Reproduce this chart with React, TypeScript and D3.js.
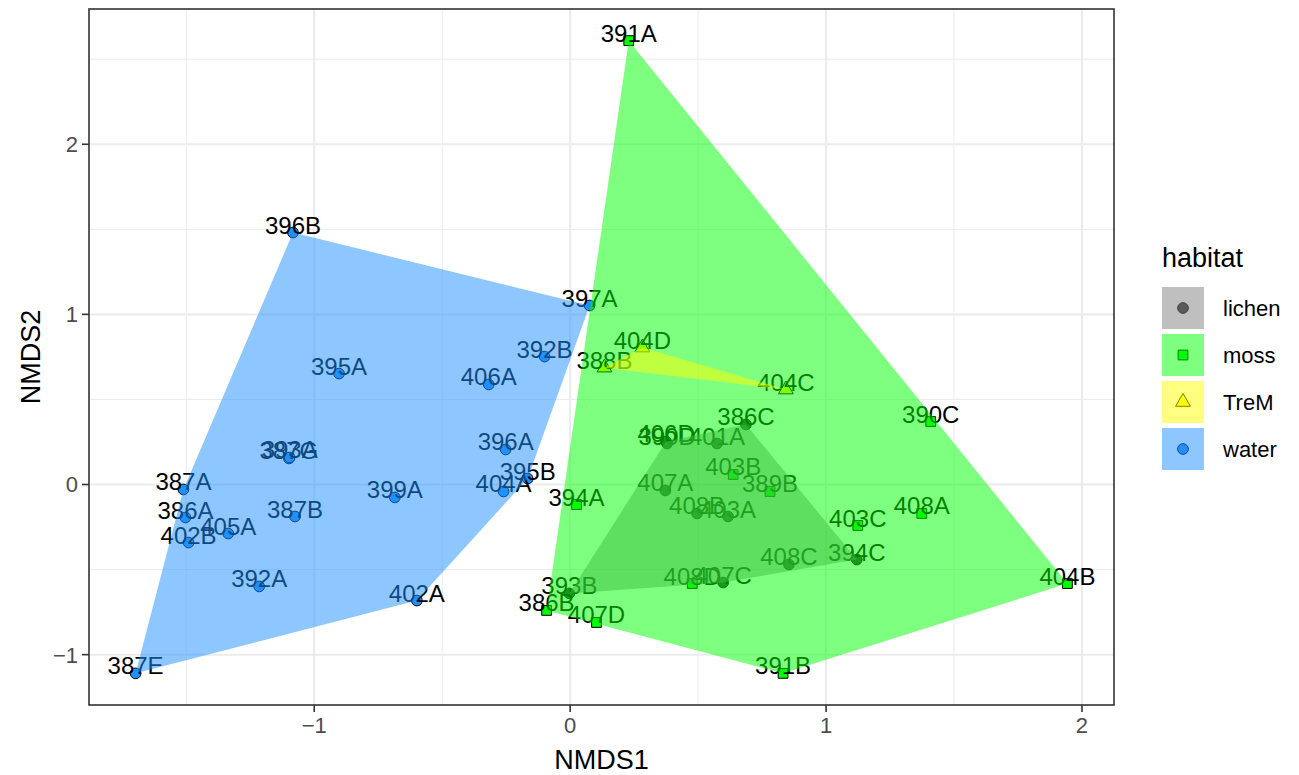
import React, { useRef, useEffect } from 'react';
import * as d3 from 'd3';

// NMDS site scores, one array per habitat
const habitats = ['lichen', 'moss', 'TreM', 'water'];

const lichenSites = [
  { label: '386C', x: 0.687, y: 0.353 },
  { label: '390D', x: 0.379, y: 0.241 },
  { label: '406D', x: 0.375, y: 0.253 },
  { label: '401A', x: 0.574, y: 0.241 },
  { label: '407A', x: 0.372, y: -0.035 },
  { label: '408B', x: 0.496, y: -0.170 },
  { label: '403A', x: 0.617, y: -0.188 },
  { label: '408C', x: 0.855, y: -0.470 },
  { label: '394C', x: 1.120, y: -0.441 },
  { label: '407C', x: 0.598, y: -0.576 },
  { label: '393B', x: -0.003, y: -0.640 },
];

const mossSites = [
  { label: '391A', x: 0.229, y: 2.609 },
  { label: '390C', x: 1.409, y: 0.370 },
  { label: '404B', x: 1.943, y: -0.582 },
  { label: '391B', x: 0.832, y: -1.110 },
  { label: '407D', x: 0.103, y: -0.811 },
  { label: '386B', x: -0.092, y: -0.740 },
  { label: '394A', x: 0.025, y: -0.118 },
  { label: '403B', x: 0.637, y: 0.059 },
  { label: '389B', x: 0.781, y: -0.041 },
  { label: '403C', x: 1.124, y: -0.241 },
  { label: '408A', x: 1.374, y: -0.170 },
  { label: '408D', x: 0.477, y: -0.582 },
];

const tremSites = [
  { label: '388B', x: 0.134, y: 0.687 },
  { label: '404D', x: 0.282, y: 0.805 },
  { label: '404C', x: 0.843, y: 0.558 },
];

const waterSites = [
  { label: '396B', x: -1.083, y: 1.481 },
  { label: '397A', x: 0.076, y: 1.052 },
  { label: '392B', x: -0.100, y: 0.752 },
  { label: '406A', x: -0.318, y: 0.588 },
  { label: '395A', x: -0.903, y: 0.652 },
  { label: '396A', x: -0.252, y: 0.206 },
  { label: '395B', x: -0.166, y: 0.035 },
  { label: '404A', x: -0.260, y: -0.041 },
  { label: '399A', x: -0.685, y: -0.076 },
  { label: '387G', x: -1.099, y: 0.153 },
  { label: '393A', x: -1.096, y: 0.159 },
  { label: '387A', x: -1.511, y: -0.029 },
  { label: '386A', x: -1.503, y: -0.194 },
  { label: '402B', x: -1.491, y: -0.341 },
  { label: '405A', x: -1.336, y: -0.288 },
  { label: '387B', x: -1.075, y: -0.188 },
  { label: '392A', x: -1.215, y: -0.599 },
  { label: '402A', x: -0.599, y: -0.682 },
  { label: '387E', x: -1.698, y: -1.110 },
];

const xTicks = [-1, 0, 1, 2];
const yTicks = [-1, 0, 1, 2];
const xMinor = [-1.5, -0.5, 0.5, 1.5];
const yMinor = [-0.5, 0.5, 1.5, 2.5];

const hullColors = { lichen: '#7f7f7f', moss: '#00ff00', TreM: '#ffff00', water: '#1e90ff' };
const pointFills = { lichen: '#333333', moss: '#00ff00', TreM: '#ffff00', water: '#1e90ff' };
const symbols = { lichen: d3.symbolCircle, moss: d3.symbolSquare, TreM: d3.symbolTriangle, water: d3.symbolCircle };
const symbolSizes = { lichen: 90, moss: 95, TreM: 95, water: 90 };

const FONT = 'Liberation Sans, Arial, Helvetica, sans-serif';

export default function App() {
  const svgRef = useRef(null);
  const width = 1299;
  const height = 775;
  const margin = { top: 9, right: 185, bottom: 70, left: 89 };

  useEffect(() => {
    const svg = d3.select(svgRef.current);
    svg.selectAll('*').remove();

    const groups = {
      lichen: lichenSites,
      moss: mossSites,
      TreM: tremSites,
      water: waterSites,
    };
    const all = habitats.flatMap(h => groups[h].map(d => ({ ...d, habitat: h })));

    // ggplot-style 5% expansion of the data range
    const [x0, x1] = d3.extent(all, d => d.x);
    const [y0, y1] = d3.extent(all, d => d.y);
    const px = (x1 - x0) * 0.05;
    const py = (y1 - y0) * 0.05;

    const left = margin.left;
    const right = width - margin.right;
    const top = margin.top;
    const bottom = height - margin.bottom;

    const x = d3.scaleLinear().domain([x0 - px, x1 + px]).range([left, right]);
    const y = d3.scaleLinear().domain([y0 - py, y1 + py]).range([bottom, top]);

    svg.append('rect')
      .attr('x', 0).attr('y', 0)
      .attr('width', width).attr('height', height)
      .attr('fill', 'white');

    const clipId = 'panel-clip';
    svg.append('clipPath').attr('id', clipId)
      .append('rect')
      .attr('x', left).attr('y', top)
      .attr('width', right - left).attr('height', bottom - top);

    // grid
    const grid = svg.append('g');
    grid.selectAll('.xminor').data(xMinor).join('line')
      .attr('x1', d => x(d)).attr('x2', d => x(d))
      .attr('y1', top).attr('y2', bottom)
      .attr('stroke', '#ebebeb').attr('stroke-width', 1);
    grid.selectAll('.yminor').data(yMinor).join('line')
      .attr('y1', d => y(d)).attr('y2', d => y(d))
      .attr('x1', left).attr('x2', right)
      .attr('stroke', '#ebebeb').attr('stroke-width', 1);
    grid.append('g').selectAll('line').data(xTicks).join('line')
      .attr('x1', d => x(d)).attr('x2', d => x(d))
      .attr('y1', top).attr('y2', bottom)
      .attr('stroke', '#ebebeb').attr('stroke-width', 2);
    grid.append('g').selectAll('line').data(yTicks).join('line')
      .attr('y1', d => y(d)).attr('y2', d => y(d))
      .attr('x1', left).attr('x2', right)
      .attr('stroke', '#ebebeb').attr('stroke-width', 2);

    const panel = svg.append('g').attr('clip-path', `url(#${clipId})`);

    // points
    panel.append('g')
      .selectAll('path')
      .data(all)
      .join('path')
      .attr('transform', d => `translate(${x(d.x)},${y(d.y)})`)
      .attr('d', d => d3.symbol(symbols[d.habitat], symbolSizes[d.habitat])())
      .attr('fill', d => pointFills[d.habitat])
      .attr('stroke', 'black')
      .attr('stroke-width', 1);

    // site labels, baseline sitting on the point
    panel.append('g')
      .selectAll('text')
      .data(all)
      .join('text')
      .attr('x', d => x(d.x))
      .attr('y', d => y(d.y) + 1)
      .attr('text-anchor', 'middle')
      .attr('font-family', FONT)
      .attr('font-size', 24)
      .attr('fill', 'black')
      .text(d => d.label);

    // convex hulls drawn over points and labels, as in the original
    habitats.forEach(h => {
      const hull = d3.polygonHull(groups[h].map(d => [x(d.x), y(d.y)]));
      if (!hull) return;
      panel.append('path')
        .attr('d', 'M' + hull.map(p => p.join(',')).join('L') + 'Z')
        .attr('fill', hullColors[h])
        .attr('fill-opacity', 0.5)
        .attr('stroke', 'none');
    });

    // panel border
    svg.append('rect')
      .attr('x', left).attr('y', top)
      .attr('width', right - left).attr('height', bottom - top)
      .attr('fill', 'none')
      .attr('stroke', '#333333')
      .attr('stroke-width', 1.6);

    // x axis
    const xAxis = svg.append('g');
    xAxis.selectAll('line').data(xTicks).join('line')
      .attr('x1', d => x(d)).attr('x2', d => x(d))
      .attr('y1', bottom).attr('y2', bottom + 7)
      .attr('stroke', '#333333').attr('stroke-width', 1.6);
    xAxis.selectAll('text').data(xTicks).join('text')
      .attr('x', d => x(d))
      .attr('y', bottom + 28)
      .attr('text-anchor', 'middle')
      .attr('font-family', FONT)
      .attr('font-size', 22)
      .attr('fill', '#4d4d4d')
      .text(d => (d < 0 ? '\u2212' + Math.abs(d) : String(d)));

    // y axis
    const yAxis = svg.append('g');
    yAxis.selectAll('line').data(yTicks).join('line')
      .attr('y1', d => y(d)).attr('y2', d => y(d))
      .attr('x1', left - 7).attr('x2', left)
      .attr('stroke', '#333333').attr('stroke-width', 1.6);
    yAxis.selectAll('text').data(yTicks).join('text')
      .attr('x', left - 11)
      .attr('y', d => y(d))
      .attr('dy', '0.36em')
      .attr('text-anchor', 'end')
      .attr('font-family', FONT)
      .attr('font-size', 22)
      .attr('fill', '#4d4d4d')
      .text(d => (d < 0 ? '\u2212' + Math.abs(d) : String(d)));

    // axis titles
    svg.append('text')
      .attr('x', (left + right) / 2)
      .attr('y', height - 6)
      .attr('text-anchor', 'middle')
      .attr('font-family', FONT)
      .attr('font-size', 27)
      .attr('fill', 'black')
      .text('NMDS1');

    svg.append('text')
      .attr('transform', `translate(40,${(top + bottom) / 2}) rotate(-90)`)
      .attr('text-anchor', 'middle')
      .attr('font-family', FONT)
      .attr('font-size', 27)
      .attr('fill', 'black')
      .text('NMDS2');

    // legend
    const legend = svg.append('g').attr('transform', 'translate(1162,0)');
    legend.append('text')
      .attr('x', 0)
      .attr('y', 267)
      .attr('font-family', FONT)
      .attr('font-size', 27)
      .attr('fill', 'black')
      .text('habitat');

    const keySize = 42;
    const keyStep = 47;
    const keyTop = 287;
    habitats.forEach((h, i) => {
      const g = legend.append('g').attr('transform', `translate(0,${keyTop + i * keyStep})`);
      g.append('rect')
        .attr('width', keySize).attr('height', keySize)
        .attr('fill', 'white');
      g.append('path')
        .attr('transform', `translate(${keySize / 2},${keySize / 2})`)
        .attr('d', d3.symbol(symbols[h], symbolSizes[h])())
        .attr('fill', pointFills[h])
        .attr('stroke', 'black')
        .attr('stroke-width', 1);
      g.append('rect')
        .attr('width', keySize).attr('height', keySize)
        .attr('fill', hullColors[h])
        .attr('fill-opacity', 0.5);
      g.append('text')
        .attr('x', 61)
        .attr('y', keySize / 2)
        .attr('dy', '0.36em')
        .attr('font-family', FONT)
        .attr('font-size', 22)
        .attr('fill', 'black')
        .text(h);
    });
  }, []);

  return (
    <svg
      ref={svgRef}
      width={width}
      height={height}
      style={{ position: 'absolute', left: 0, top: 0, display: 'block' }}
    />
  );
}
